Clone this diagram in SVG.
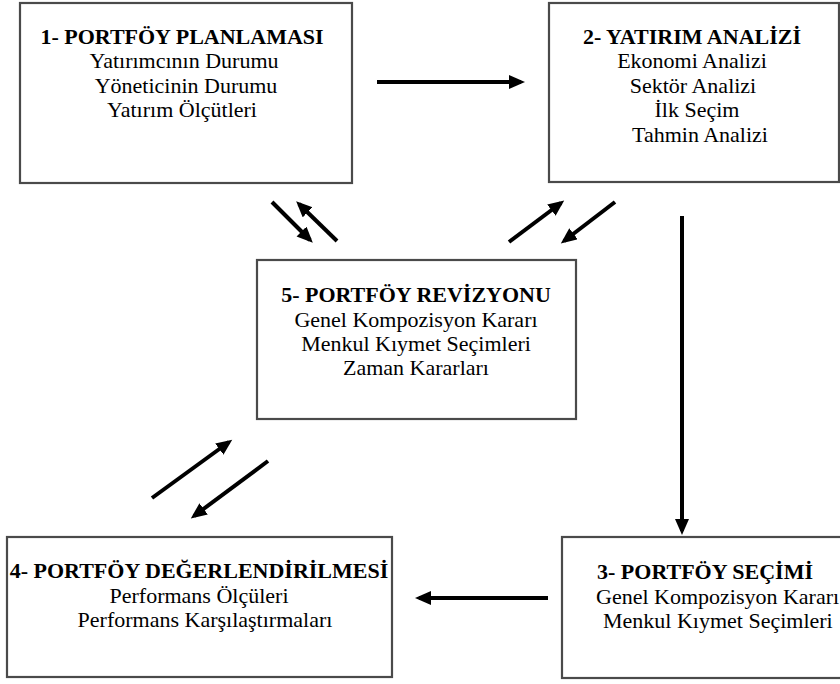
<svg xmlns="http://www.w3.org/2000/svg" width="840" height="684" viewBox="0 0 840 684">
<style>
.box{fill:#fff;stroke:#4a4a4a;stroke-width:2.2}
.t{font-family:'Liberation Serif','Times New Roman',serif;font-size:22px;fill:#000;text-anchor:middle}
.b{font-weight:bold}
.s{text-anchor:start}
.c{stroke:#000;stroke-width:4;fill:none;marker-end:url(#ah)}
</style>
<defs>
<marker id="ah" markerUnits="userSpaceOnUse" markerWidth="17" markerHeight="15" refX="12" refY="7" orient="auto">
<path d="M0,0 L16,7 L0,14 z" fill="#000"/>
</marker>
</defs>
<rect width="840" height="684" fill="#fff"/>
<g id="node1">
<rect class="box" x="20" y="3" width="332" height="180"/>
<text class="t b" x="182" y="44">1- PORTFÖY PLANLAMASI</text>
<text class="t" x="184" y="68">Yatırımcının Durumu</text>
<text class="t" x="186" y="93">Yöneticinin Durumu</text>
<text class="t" x="182" y="117">Yatırım Ölçütleri</text>
</g>
<g id="node2">
<rect class="box" x="549" y="3" width="290" height="179"/>
<text class="t b" x="692" y="44">2- YATIRIM ANALİZİ</text>
<text class="t" x="692" y="68">Ekonomi Analizi</text>
<text class="t" x="693" y="93">Sektör Analizi</text>
<text class="t" x="697" y="117">İlk Seçim</text>
<text class="t" x="700" y="142">Tahmin Analizi</text>
</g>
<g id="node5">
<rect class="box" x="257" y="260" width="319" height="159"/>
<text class="t b" x="416" y="302">5- PORTFÖY REVİZYONU</text>
<text class="t" x="416" y="327">Genel Kompozisyon Kararı</text>
<text class="t" x="416" y="351">Menkul Kıymet Seçimleri</text>
<text class="t" x="416" y="375">Zaman Kararları</text>
</g>
<g id="node4">
<rect class="box" x="7" y="537" width="385" height="140"/>
<text class="t b" x="199" y="578">4- PORTFÖY DEĞERLENDİRİLMESİ</text>
<text class="t" x="199" y="603">Performans Ölçüleri</text>
<text class="t" x="205" y="627">Performans Karşılaştırmaları</text>
</g>
<g id="node3">
<rect class="box" x="562" y="537" width="290" height="141"/>
<text class="t b s" x="597" y="579">3- PORTFÖY SEÇİMİ</text>
<text class="t s" x="596" y="604">Genel Kompozisyon Kararı</text>
<text class="t s" x="603" y="628">Menkul Kıymet Seçimleri</text>
</g>
<g id="connectors">
<line class="c" x1="377" y1="82" x2="521" y2="82"/>
<line class="c" x1="682" y1="216" x2="682" y2="531"/>
<line class="c" x1="548" y1="598" x2="419" y2="598"/>
<line class="c" x1="272" y1="202" x2="310" y2="240"/>
<line class="c" x1="337" y1="241" x2="299" y2="204"/>
<line class="c" x1="509" y1="242" x2="561" y2="203"/>
<line class="c" x1="615" y1="202" x2="564" y2="241"/>
<line class="c" x1="152" y1="498" x2="229" y2="442"/>
<line class="c" x1="268" y1="461" x2="194" y2="516"/>
</g>
</svg>
